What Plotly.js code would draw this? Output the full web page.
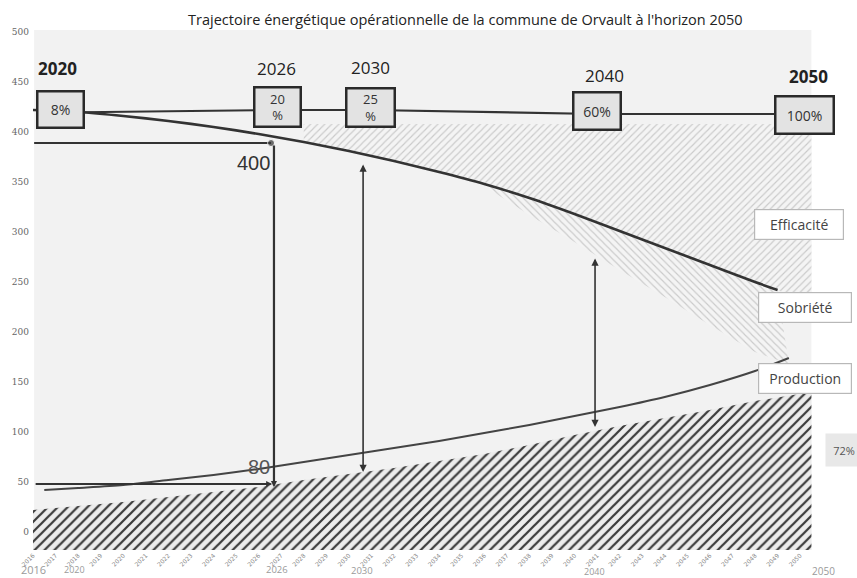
<!DOCTYPE html>
<html><head><meta charset="utf-8">
<script src="https://cdn.plot.ly/plotly-3.0.1.min.js"></script>
<style>html,body{margin:0;padding:0;background:#fff}#chart{width:857px;height:578px}</style>
</head><body><div id="chart"></div>
<script>
// ---------- data ----------
const titleText = "Trajectoire énergétique opérationnelle de la commune de Orvault à l'horizon 2050";
const years = [2016,2018,2020,2022,2024,2026,2028,2030,2032,2034,2036,2038,2040,2042,2044,2046,2048,2049];
const consumption = [422,420,416,411,405,398,390,381,371,360,348,334,318,301,284,267,250,242];
const prodYears = [2016.5,2018,2020,2022,2024,2026,2028,2030,2032,2034,2036,2038,2040,2042,2044,2046,2048,2049.5];
const production = [42,44,47,52,57,63,70,77,84,91,99,107,116,125,135,147,161,174];
const renewYears = [2016,2018,2020,2022,2024,2026,2028,2030,2032,2034,2036,2038,2040,2042,2044,2046,2048,2050,2050.5];
const renewables = [22,26,30,35,40,45,52,58,64,71,78,87,97,106,114,122,131,138,140];
const sobrietyYears = [2036,2038,2040,2042,2044,2046,2048,2049.5];
const sobrietyLow = [346,317,290,262,235,207,180,168];
const efficiencyTop = 408;
const efficiencyEnd = 228;
const milestoneYears = ['2020','2026','2030','2040','2050'];
const milestoneShares = ['8%','20<br>%','25<br>%','60%','100%'];
const refLabels = ['400','80'];
const tickYears = [];
for (let y = 2016; y <= 2050; y++) tickYears.push(y);
const bigTickLabels = ['2016','2020','2026','2030','2040','2050'];
const yTicks = [0,50,100,150,200,250,300,350,400,450,500];
const sideLabels = ['Efficacité','Sobriété','Production'];
const sideShare = '72%';

// ---------- layout positions (where the scan places things) ----------
const boxX = [2017.2, 2026.85, 2030.95, 2041.0, 2050.2];
const boxY = [422.5, 425, 425, 421, 417];
const boxW = [44, 44, 46, 45, 56];
const boxH = [34, 37, 36, 35, 35];
const yearLblX = [2017.1, 2026.8, 2030.95, 2041.35, 2050.35];
const yearLblY = [464, 464, 465, 457, 456];
const bigTickX = [2016.04, 2017.86, 2026.82, 2030.58, 2040.87, 2051.02];
const bigTickY = [-0.038, -0.038, -0.038, -0.040, -0.042, -0.040];
const bigTickSize = [11, 9, 9.5, 9.5, 9, 10];
const sideX = [2049.95, 2050.2, 2050.2];
const sideY = [308, 225, 154];
const right = 2050.5, left = 2016.05, bottom = -18;

const ink = '#333';
const traces = [];

// renewable production (dark hatched area)
traces.push({
  x: renewYears.concat(renewYears.slice().reverse()),
  y: renewables.concat(renewYears.map(() => bottom)),
  mode: 'lines', fill: 'toself', line: {width: 0},
  fillpattern: {shape: '/', size: 7, solidity: 0.32, fgcolor: '#3a3a3a', bgcolor: '#ececec', fillmode: 'replace'},
  hoverinfo: 'skip', showlegend: false
});
// efficacité area (light hatch above the curve)
const effIdx = years.map((y, i) => i).filter(i => years[i] >= 2028);
const effX = effIdx.map(i => years[i]).concat([right, right, years[effIdx[0]]]);
const effY = effIdx.map(i => consumption[i]).concat([efficiencyEnd, efficiencyTop, efficiencyTop]);
traces.push({
  x: effX, y: effY, mode: 'lines', fill: 'toself', line: {width: 0},
  fillpattern: {shape: '/', size: 5, solidity: 0.22, fgcolor: '#cacaca', bgcolor: '#f4f4f4', fillmode: 'replace'},
  hoverinfo: 'skip', showlegend: false
});
// sobriété wedge (light hatch below the curve)
const sobIdx = years.map((y, i) => i).filter(i => years[i] >= 2036);
traces.push({
  x: sobIdx.map(i => years[i]).concat(sobrietyYears.slice().reverse()),
  y: sobIdx.map(i => consumption[i]).concat(sobrietyLow.slice().reverse()),
  mode: 'lines', fill: 'toself', line: {width: 0},
  fillpattern: {shape: '\\', size: 5, solidity: 0.22, fgcolor: '#cacaca', bgcolor: '#f4f4f4', fillmode: 'replace'},
  hoverinfo: 'skip', showlegend: false
});
// consumption curve
traces.push({x: years, y: consumption, mode: 'lines', line: {color: ink, width: 2.6, shape: 'spline', smoothing: 0.8}, hoverinfo: 'skip', showlegend: false});
// production curve
traces.push({x: prodYears, y: production, mode: 'lines', line: {color: '#444', width: 2, shape: 'spline', smoothing: 0.8}, hoverinfo: 'skip', showlegend: false});
// connector between milestone boxes
traces.push({x: boxX.slice(0, 4), y: boxY.slice(0, 4).map(v => v - 3), mode: 'lines', line: {color: ink, width: 2.2}, hoverinfo: 'skip', showlegend: false});
// 400 reference line with dot
traces.push({x: [left, 2026.55], y: [389, 389], mode: 'lines+markers', marker: {size: [0, 7], color: ink}, line: {color: ink, width: 2.2}, hoverinfo: 'skip', showlegend: false});

const ann = [];
function arrow(x, y, ax, ay, side, w, s) {
  ann.push({x: x, y: y, ax: ax, ay: ay, xref: 'x', yref: 'y', axref: 'x', ayref: 'y', text: '',
    showarrow: true, arrowhead: 2, arrowsize: s || 1, arrowwidth: w || 1.6, arrowcolor: ink, arrowside: side});
}
arrow(boxX[4], 418, boxX[3], 418, 'end', 2, 0.7);
arrow(2026.68, 45, 2026.68, 388, 'end', 2.2, 0.55);
arrow(2026.6, 48, left, 48, 'end', 2.2, 0.55);
arrow(2030.63, 60, 2030.63, 369, 'end+start', 1.6, 0.9);
arrow(2040.91, 105, 2040.91, 275, 'end+start', 1.6, 0.9);

milestoneShares.forEach((t, i) => {
  ann.push({x: boxX[i], y: boxY[i], xref: 'x', yref: 'y', text: t, showarrow: false,
    width: boxW[i], height: boxH[i], bgcolor: '#e3e3e3', bordercolor: '#2a2a2a', borderwidth: 2.5, borderpad: 0,
    font: {family: 'Open Sans, sans-serif', size: i === 1 || i === 2 ? 13 : 14, color: ink}});
  ann.push({x: yearLblX[i], y: yearLblY[i], xref: 'x', yref: 'y', text: (i === 0 || i === 4) ? '<b>' + milestoneYears[i] + '</b>' : milestoneYears[i],
    showarrow: false, font: {family: 'Open Sans, sans-serif', size: 17, color: '#222'}});
});
ann.push({x: 2026.6, y: 369, xref: 'x', yref: 'y', text: refLabels[0], xanchor: 'right', showarrow: false,
  font: {family: 'Liberation Sans, Arial, sans-serif', size: 20, color: '#333'}});
ann.push({x: 2026.6, y: 65, xref: 'x', yref: 'y', text: refLabels[1], xanchor: 'right', showarrow: false,
  font: {family: 'Liberation Sans, Arial, sans-serif', size: 20, color: '#555'}});
sideLabels.forEach((t, i) => {
  ann.push({x: sideX[i], y: sideY[i], xref: 'x', yref: 'y', text: t, showarrow: false,
    width: i === 0 ? 88 : 92, height: 29, bgcolor: '#ffffff', bordercolor: '#b8b8b8', borderwidth: 1.2, borderpad: 0,
    font: {family: 'Open Sans, sans-serif', size: 14, color: '#444'}});
});
ann.push({x: 2051.95, y: 82, xref: 'x', yref: 'y', text: sideShare, showarrow: false, width: 34, height: 30,
  bgcolor: '#e8e8e8', font: {family: 'Open Sans, sans-serif', size: 11, color: '#555'}});
bigTickLabels.forEach((t, i) => {
  ann.push({x: bigTickX[i], y: bigTickY[i], xref: 'x', yref: 'paper', text: t, showarrow: false,
    yanchor: 'middle', font: {family: 'Open Sans, sans-serif', size: bigTickSize[i], color: '#9a9a9a'}});
});

const layout = {
  width: 857, height: 578,
  margin: {l: 30, r: 0, t: 30, b: 28},
  paper_bgcolor: '#ffffff', plot_bgcolor: '#ffffff',
  title: {text: titleText, font: {family: 'Open Sans, sans-serif', size: 14.5, color: '#222'},
    xref: 'container', x: 0.543, xanchor: 'center', yref: 'container', y: 0.965, yanchor: 'middle'},
  xaxis: {range: [2015.867, 2052.52], tickmode: 'array', tickvals: tickYears, ticktext: tickYears.map(String),
    tickangle: -45, tickfont: {family: 'DejaVu Sans, sans-serif', size: 6, color: '#888'},
    showgrid: false, zeroline: false, showline: false, ticks: '', fixedrange: true},
  yaxis: {range: [bottom, 502], tickmode: 'array', tickvals: yTicks, ticktext: yTicks.map(String),
    tickfont: {family: 'DejaVu Serif, serif', size: 9, color: '#666'},
    showgrid: false, zeroline: false, showline: false, ticks: '', fixedrange: true},
  shapes: [{type: 'rect', xref: 'x', yref: 'y', x0: left, x1: right, y0: bottom, y1: 502,
    fillcolor: '#f2f2f2', line: {width: 0}, layer: 'below'}],
  annotations: ann,
  showlegend: false
};
Plotly.newPlot('chart', traces, layout, {displayModeBar: false, staticPlot: true});
</script></body></html>
